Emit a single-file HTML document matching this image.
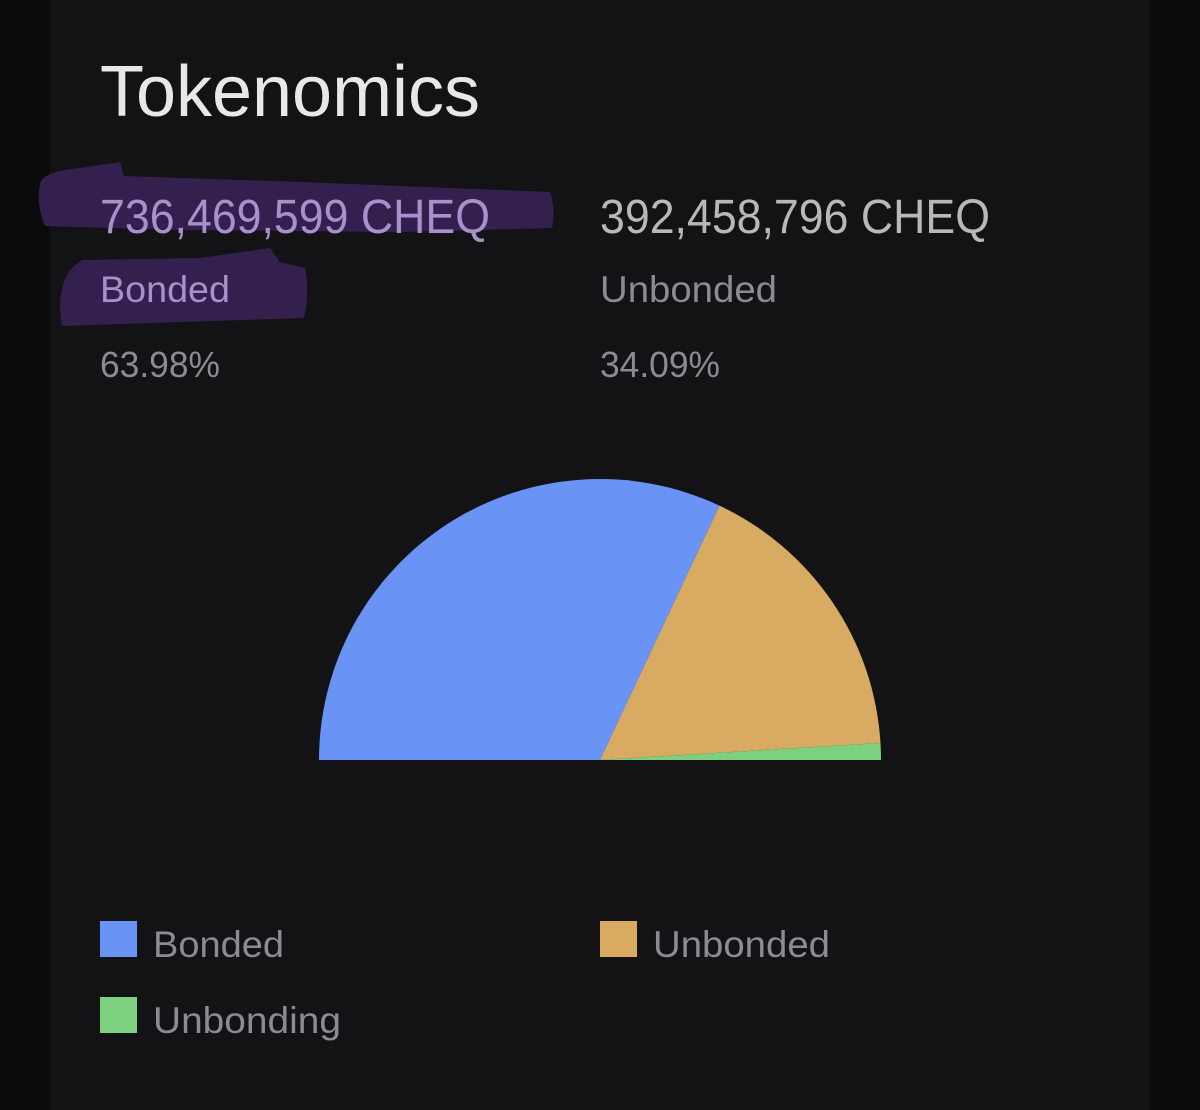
<!DOCTYPE html>
<html><head><meta charset="utf-8"><style>
html,body{margin:0;padding:0;background:#0b0b0c;}
svg{display:block}
text{font-family:"Liberation Sans",sans-serif;}
</style></head><body>
<svg width="1200" height="1110" viewBox="0 0 1200 1110" xmlns="http://www.w3.org/2000/svg">
<rect x="0" y="0" width="1200" height="1110" fill="#0b0b0c"/>
<rect x="50" y="-10" width="1100" height="1130" rx="8" fill="#131315"/>
<text x="100" y="116" font-size="72" fill="#e8e8ea" textLength="380" lengthAdjust="spacingAndGlyphs">Tokenomics</text>
<path d="M40 185 Q40 172 80 168 L120 162 L124 176 L300 182 L550 192 Q556 210 552 228 L400 232 L180 230 L45 226 Q36 205 40 185 Z" fill="#33204f"/>
<path d="M62 290 Q64 272 82 260 L200 258 L270 248 L280 262 L305 268 Q310 290 304 318 L180 322 L62 326 Q58 306 62 290 Z" fill="#33204f"/>
<text x="100" y="233" font-size="48" fill="#a990cc" textLength="390" lengthAdjust="spacingAndGlyphs">736,469,599 CHEQ</text>
<text x="100" y="302" font-size="37" fill="#a990cc" textLength="130" lengthAdjust="spacingAndGlyphs">Bonded</text>
<text x="100" y="377" font-size="36" fill="#8c8c90" textLength="120" lengthAdjust="spacingAndGlyphs">63.98%</text>
<text x="600" y="233" font-size="48" fill="#b8b8bb" textLength="390" lengthAdjust="spacingAndGlyphs">392,458,796 CHEQ</text>
<text x="600" y="302" font-size="37" fill="#8c8c90" textLength="177" lengthAdjust="spacingAndGlyphs">Unbonded</text>
<text x="600" y="377" font-size="36" fill="#8c8c90" textLength="120" lengthAdjust="spacingAndGlyphs">34.09%</text>
<g id="pie"></g>
<g>
<rect x="100" y="921" width="37" height="36" fill="#6994f6"/>
<text x="153" y="957" font-size="37" fill="#8c8c90" textLength="131" lengthAdjust="spacingAndGlyphs">Bonded</text>
<rect x="600" y="921" width="37" height="36" fill="#d9ab62"/>
<text x="653" y="957" font-size="37" fill="#8c8c90" textLength="177" lengthAdjust="spacingAndGlyphs">Unbonded</text>
<rect x="100" y="997" width="37" height="36" fill="#7dd07f"/>
<text x="153" y="1033" font-size="37" fill="#8c8c90" textLength="188" lengthAdjust="spacingAndGlyphs">Unbonding</text>
</g>
</svg>
<script>
const categories = ["Bonded", "Unbonded", "Unbonding"];
const values = [63.98, 34.09, 1.93];
const colors = ["#6994f6", "#d9ab62", "#7dd07f"];
const cx = 600, cy = 760, r = 281;
const g = document.getElementById('pie');
const total = values.reduce((a, b) => a + b, 0);
let start = Math.PI;
values.forEach((v, i) => {
  const sweep = v / total * Math.PI;
  const end = start - sweep;
  const x1 = cx + r * Math.cos(start), y1 = cy - r * Math.sin(start);
  const x2 = cx + r * Math.cos(end), y2 = cy - r * Math.sin(end);
  const p = document.createElementNS('http://www.w3.org/2000/svg', 'path');
  p.setAttribute('d', `M${cx} ${cy} L${x1} ${y1} A${r} ${r} 0 0 1 ${x2} ${y2} Z`);
  p.setAttribute('fill', colors[i]);
  
  
  g.appendChild(p);
  start = end;
});
</script>
</body></html>
